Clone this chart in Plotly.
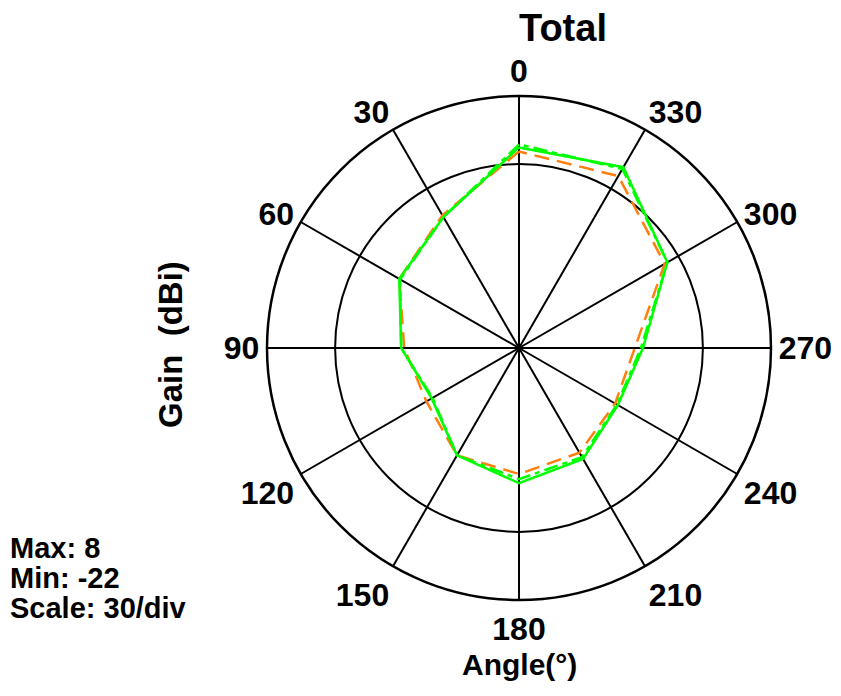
import plotly.graph_objects as go

# angles (deg) and gain (dBi) for the three traces
angles = [0, 30, 60, 90, 120, 150, 180, 210, 240, 270, 300, 330]
gain_solid = [4.9, -9.6, -13.4, -19.4, -24.4, -17.6, -14.3, -16.4, -20.5, -17.6, -3.7, 7.3]
gain_dashdot = [5.8, -9.6, -13.7, -19.4, -24.7, -17.6, -15.5, -17.0, -20.8, -18.2, -3.7, 6.7]
gain_orange = [3.7, -9.0, -13.4, -20.3, -22.6, -17.6, -17.0, -18.5, -21.4, -20.0, -4.6, 4.3]

tick_angles = list(range(0, 360, 30))
tick_labels = [str(a) for a in tick_angles]
summary_lines = ["Max: 8", "Min: -22", "Scale: 30/div"]

FONT = "Arial, Liberation Sans, sans-serif"
GREEN = "#00ff00"
ORANGE = "#ff7f0e"
W, H = 841, 696


def closed(values):
    return values + values[:1]


def px(x, y):
    # page pixel -> paper coords (page body adds an 8px margin)
    return (x - 8) / W, 1 - (y - 8) / H


fig = go.Figure()

fig.add_trace(go.Scatterpolar(
    r=closed(gain_orange), theta=closed(angles), mode="lines",
    line=dict(color=ORANGE, width=2.5, dash="15px,8px"),
    name="orange"
))
fig.add_trace(go.Scatterpolar(
    r=closed(gain_dashdot), theta=closed(angles), mode="lines",
    line=dict(color=GREEN, width=2.5, dash="14px,5px,5px,5px"),
    name="dashdot"
))
fig.add_trace(go.Scatterpolar(
    r=closed(gain_solid), theta=closed(angles), mode="lines",
    line=dict(color=GREEN, width=2.5),
    name="solid"
))

fig.update_layout(
    width=W, height=H,
    margin=dict(l=0, r=0, t=0, b=0),
    paper_bgcolor="white",
    showlegend=False,
    font=dict(family=FONT, color="black", weight="bold"),
    polar=dict(
        domain=dict(x=[(511 - 252) / W, (511 + 252) / W],
                    y=[(356 - 252) / H, (356 + 252) / H]),
        bgcolor="white",
        angularaxis=dict(
            rotation=90, direction="counterclockwise",
            tickmode="array", tickvals=tick_angles, ticktext=tick_labels,
            tickfont=dict(size=32, family=FONT, weight="bold"),
            ticks="", showline=True, linecolor="black", linewidth=2.5,
            showgrid=True, gridcolor="black", gridwidth=2,
        ),
        radialaxis=dict(
            range=[-54, 20], tickmode="array", tickvals=[0],
            showticklabels=False, ticks="", showline=False,
            showgrid=True, gridcolor="black", gridwidth=2,
        ),
    ),
)

# title and axis labels
x, y = px(563, 28)
fig.add_annotation(text="Total", x=x, y=y, xref="paper", yref="paper",
                   xanchor="center", yanchor="middle", showarrow=False,
                   font=dict(size=38, family=FONT, weight="bold"))
x, y = px(519, 664)
fig.add_annotation(text="Angle(°)", x=x, y=y, xref="paper", yref="paper",
                   xanchor="center", yanchor="middle", showarrow=False,
                   font=dict(size=30, family=FONT, weight="bold"))
x, y = px(170, 345)
fig.add_annotation(text="Gain  (dBi)", x=x, y=y, xref="paper", yref="paper",
                   xanchor="center", yanchor="middle", showarrow=False, textangle=-90,
                   font=dict(size=33, family=FONT, weight="bold"))

for i, line in enumerate(summary_lines):
    x, y = px(8, 548 + 30 * i)
    fig.add_annotation(text=line, x=x, y=y, xref="paper", yref="paper",
                       xanchor="left", yanchor="middle", showarrow=False,
                       font=dict(size=29, family=FONT, weight="bold"))

fig.write_html("out.html")
